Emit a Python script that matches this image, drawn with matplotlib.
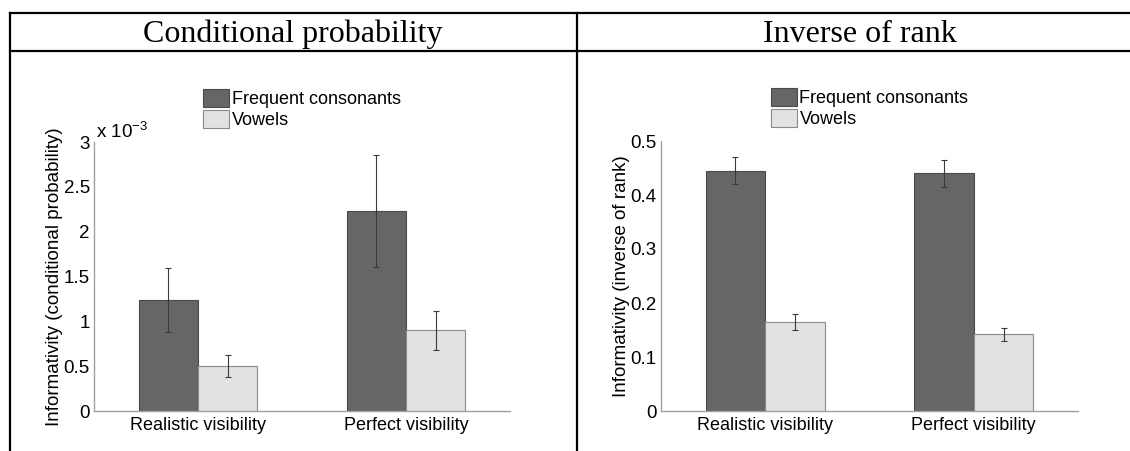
import matplotlib
matplotlib.use('Agg')
import matplotlib.pyplot as plt
from matplotlib.lines import Line2D
from matplotlib.ticker import FuncFormatter
import numpy as np

plt.rcParams['font.family'] = ['Liberation Sans', 'DejaVu Sans']
plt.rcParams['mathtext.default'] = 'regular'

groups = ['Realistic visibility', 'Perfect visibility']
series = ['Frequent consonants', 'Vowels']

# conditional probability (raw values, shown as x 10^-3)
cp_cons = [0.00124, 0.00223]
cp_cons_err = [0.00036, 0.00062]
cp_vow = [0.00050, 0.00090]
cp_vow_err = [0.000123, 0.00022]

# inverse of rank
ir_cons = [0.445, 0.440]
ir_cons_err = [0.025, 0.025]
ir_vow = [0.165, 0.142]
ir_vow_err = [0.015, 0.0115]

panel_titles = ['Conditional probability', 'Inverse of rank']
ylabels = ['Informativity (conditional probability)', 'Informativity (inverse of rank)']

W, H = 1130, 451
fig = plt.figure(figsize=(W / 100, H / 100), dpi=100)

def fx(px):
    return px / W

def fy(py):
    return 1 - py / H

# table frame
lw = 1.6
for seg in [((fx(10), fx(W)), (fy(13), fy(13))),
            ((fx(10), fx(W)), (fy(51), fy(51))),
            ((fx(10), fx(10)), (fy(13), fy(H))),
            ((fx(577), fx(577)), (fy(13), fy(H)))]:
    fig.add_artist(Line2D(seg[0], seg[1], color='black', lw=lw, transform=fig.transFigure))

fig.text(fx(293), fy(34), panel_titles[0], family='Liberation Serif', fontsize=23,
         ha='center', va='center')
fig.text(fx(860), fy(34), panel_titles[1], family='Liberation Serif', fontsize=23,
         ha='center', va='center')

dark = '#666666'
light = '#e2e2e2'
bw = 0.286
x = np.arange(1, len(groups) + 1)

def draw(ax, cons, cons_err, vow, vow_err, ylim, yticks, ylabel, label_x):
    ax.bar(x - bw / 2, cons, bw, color=dark, edgecolor='#4a4a4a', linewidth=0.8,
           label=series[0], zorder=2)
    ax.bar(x + bw / 2, vow, bw, color=light, edgecolor='#8a8a8a', linewidth=0.8,
           label=series[1], zorder=2)
    ax.errorbar(x - bw / 2, cons, yerr=cons_err, fmt='none', ecolor='#3a3a3a',
                elinewidth=0.8, capsize=2, capthick=0.8, zorder=3)
    ax.errorbar(x + bw / 2, vow, yerr=vow_err, fmt='none', ecolor='#3a3a3a',
                elinewidth=0.8, capsize=2, capthick=0.8, zorder=3)
    ax.set_xlim(0.5, 2.5)
    ax.set_ylim(*ylim)
    ax.set_yticks(yticks)
    ax.set_xticks(x)
    ax.set_xticklabels(groups, fontsize=13)
    ax.tick_params(axis='x', length=0, pad=4)
    ax.tick_params(axis='y', length=0, pad=3, labelsize=13.5)
    for s in ['top', 'right']:
        ax.spines[s].set_visible(False)
    for s in ['left', 'bottom']:
        ax.spines[s].set_color('#a0a0a0')
        ax.spines[s].set_linewidth(1.0)
    ax.set_ylabel(ylabel, fontsize=13.5)
    ax.yaxis.set_label_coords(label_x, 0.5)
    leg = ax.legend(loc='lower center', bbox_to_anchor=(0.5, 1.0), frameon=False,
                    fontsize=13, handlelength=1.45, handleheight=1.15,
                    handletextpad=0.15, labelspacing=0.12, borderaxespad=0.3)
    return leg

ax1 = fig.add_axes([fx(94), fy(411), fx(510) - fx(94), fy(142) - fy(411)])
draw(ax1, cp_cons, cp_cons_err, cp_vow, cp_vow_err, (0, 0.003),
     [0, 0.0005, 0.001, 0.0015, 0.002, 0.0025, 0.003], ylabels[0], -0.075)
ax1.yaxis.set_major_formatter(FuncFormatter(lambda v, p: '%g' % round(v * 1e3, 3)))
ax1.text(0.005, 1.0, 'x 10$^{-3}$', transform=ax1.transAxes, fontsize=13.5,
         ha='left', va='bottom')

ax2 = fig.add_axes([fx(661), fy(411), fx(1078) - fx(661), fy(141) - fy(411)])
draw(ax2, ir_cons, ir_cons_err, ir_vow, ir_vow_err, (0, 0.5),
     [0, 0.1, 0.2, 0.3, 0.4, 0.5], ylabels[1], -0.075)
ax2.yaxis.set_major_formatter(FuncFormatter(lambda v, p: '%g' % round(v, 3)))

fig.savefig('out.png', dpi=100)
